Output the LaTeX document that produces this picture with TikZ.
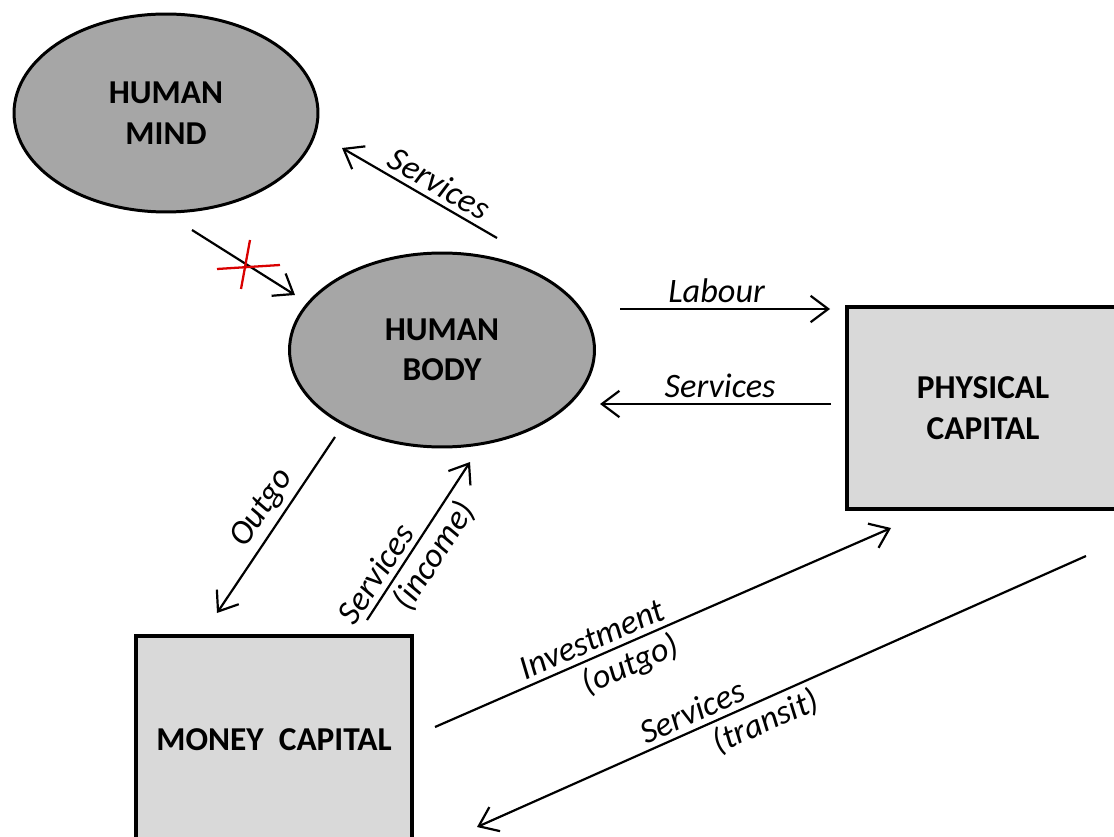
\documentclass[tikz,border=0pt]{standalone}
\usepackage{fontspec}
\setmainfont{Carlito}
\usepackage{tikz}
\usetikzlibrary{arrows.meta,shapes.geometric}

\begin{document}
\begin{tikzpicture}[x=0.02cm,y=-0.02cm,
	part/.style={ellipse,draw,line width=1.7pt,fill=gray!70,align=center,font=\fontsize{19}{23}\selectfont\bfseries},
	stock/.style={rectangle,draw,line width=2.3pt,fill=black!15,align=center,font=\fontsize{19}{23}\selectfont\bfseries},
	flow/.style={draw,line width=1.25pt,-{Straight Barb[length=10pt,width=15pt,line width=1.25pt]}},
	lab/.style={sloped,font=\fontsize{19.5}{22}\selectfont\itshape,inner sep=3pt}]
	\path[use as bounding box,clip] (0,0) rectangle (1114,837);
	% stocks
	\node[part,minimum width=6.08cm,minimum height=3.96cm] (mind) at (166,113) {HUMAN\\MIND};
	\node[part,minimum width=6.1cm,minimum height=3.88cm] (body) at (442,350) {HUMAN\\BODY};
	\node[stock,minimum width=5.44cm,minimum height=4.04cm] (phys) at (983,408) {PHYSICAL\\CAPITAL};
	\node[stock,minimum width=5.52cm,minimum height=4.16cm] (money) at (274,740) {MONEY~ CAPITAL};
	% flows
	\draw[flow] ([shift={(55,-112)}]body.center) -- node[lab,above,pos=0.43] {Services} ([shift={(176,35)}]mind.center);
	\draw[flow] ([shift={(26,117)}]mind.center) -- ([shift={(-147,-55)}]body.center);
	\coordinate (cut) at (246,266);
	\draw[red!85!black,line width=1.3pt] ([shift={(-29,3)}]cut) -- ([shift={(34,-1)}]cut)
		([shift={(4,-26)}]cut) -- ([shift={(-5,23)}]cut);
	\draw[flow] ([shift={(178,-41)}]body.center) -- node[lab,above,pos=0.46] {Labour} ([shift={(-15,-99)}]phys.west);
	\draw[flow] ([shift={(-14,-4)}]phys.west) -- node[lab,above,pos=0.48] {Services} ([shift={(158,54)}]body.center);
	\draw[flow] ([shift={(-107,87)}]body.center) -- node[lab,above,pos=0.47] {Outgo} ([shift={(-57,-127)}]money.center);
	\draw[flow] ([shift={(93,-120)}]money.center) -- node[lab,above,pos=0.23] {Services} node[lab,below,pos=0.48] {(income)} ([shift={(28,112)}]body.center);
	\draw[flow] ([shift={(161,-13)}]money.center) -- node[lab,above,pos=0.36] {Investment} node[lab,below,pos=0.41] {(outgo)} ([shift={(46,120)}]phys.west);
	\draw[flow] ([shift={(241,148)}]phys.west) -- node[lab,above,pos=0.635] {Services} node[lab,below,pos=0.54] {(transit)} ([shift={(203,87)}]money.center);
\end{tikzpicture}
\end{document}
